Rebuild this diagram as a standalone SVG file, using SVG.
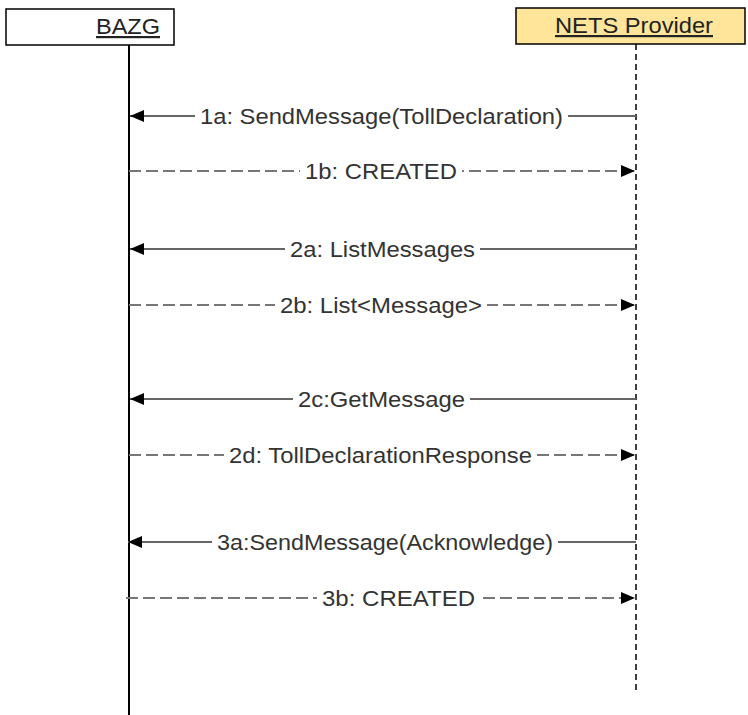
<svg xmlns="http://www.w3.org/2000/svg" width="748" height="715" viewBox="0 0 748 715">
<style>
.box{stroke:#000;stroke-width:1.5}
.title{font-family:"Liberation Sans",Arial,sans-serif;font-size:22px;fill:#222;text-anchor:middle;text-decoration:underline}
.lbl{font-family:"Liberation Sans",Arial,sans-serif;font-size:22px;fill:#333;text-anchor:middle;dominant-baseline:central}
.msg{stroke:#666;stroke-width:2.2;fill:none}
.ret{stroke:#777;stroke-width:2.2;fill:none;stroke-dasharray:12 5}
.bg{fill:#fff}
</style>
<defs>
<marker id="ahb" viewBox="0 0 14 12" refX="14" refY="6" markerWidth="14" markerHeight="12" markerUnits="userSpaceOnUse" orient="auto"><path d="M0,0 L14,6 L0,12 z" fill="#000"/></marker>
</defs>
<g id="bazg">
<rect class="box" x="6" y="9" width="168" height="36" fill="#fff"/>
<text class="title" x="128" y="34" textLength="64" lengthAdjust="spacingAndGlyphs">BAZG</text>
<line x1="129" y1="45" x2="129" y2="715" stroke="#000" stroke-width="2"/>
</g>
<g id="nets">
<rect class="box" x="516" y="8" width="229" height="36" fill="#ffe599"/>
<text class="title" x="634" y="33" textLength="158" lengthAdjust="spacingAndGlyphs">NETS Provider</text>
<line x1="636" y1="44" x2="636" y2="693" stroke="#000" stroke-width="1.5" stroke-dasharray="6 4"/>
</g>
<g id="connectors">
<line class="msg" x1="636" y1="116" x2="130" y2="116" marker-end="url(#ahb)"/>
<rect class="bg" x="195" y="104" width="373" height="24"/>
<text class="lbl" x="381.5" y="116" textLength="363" lengthAdjust="spacingAndGlyphs">1a: SendMessage(TollDeclaration)</text>

<line class="ret" x1="129" y1="171" x2="635" y2="171" marker-end="url(#ahb)"/>
<rect class="bg" x="300" y="159" width="162" height="24"/>
<text class="lbl" x="381" y="171" textLength="152" lengthAdjust="spacingAndGlyphs">1b: CREATED</text>

<line class="msg" x1="636" y1="249" x2="130" y2="249" marker-end="url(#ahb)"/>
<rect class="bg" x="285" y="237" width="195" height="24"/>
<text class="lbl" x="382.5" y="249" textLength="185" lengthAdjust="spacingAndGlyphs">2a: ListMessages</text>

<line class="ret" x1="129" y1="305" x2="635" y2="305" marker-end="url(#ahb)"/>
<rect class="bg" x="275" y="293" width="212" height="24"/>
<text class="lbl" x="381" y="305" textLength="202" lengthAdjust="spacingAndGlyphs">2b: List&lt;Message&gt;</text>

<line class="msg" x1="636" y1="399" x2="130" y2="399" marker-end="url(#ahb)"/>
<rect class="bg" x="293" y="387" width="177" height="24"/>
<text class="lbl" x="381.5" y="399" textLength="167" lengthAdjust="spacingAndGlyphs">2c:GetMessage</text>

<line class="ret" x1="129" y1="455" x2="635" y2="455" marker-end="url(#ahb)"/>
<rect class="bg" x="224" y="443" width="313" height="24"/>
<text class="lbl" x="380.5" y="455" textLength="303" lengthAdjust="spacingAndGlyphs">2d: TollDeclarationResponse</text>

<line class="msg" x1="636" y1="542" x2="128" y2="542" marker-end="url(#ahb)"/>
<rect class="bg" x="212" y="530" width="346" height="24"/>
<text class="lbl" x="385" y="542" textLength="336" lengthAdjust="spacingAndGlyphs">3a:SendMessage(Acknowledge)</text>

<line class="ret" x1="126" y1="598" x2="635" y2="598" marker-end="url(#ahb)"/>
<rect class="bg" x="317" y="586" width="163" height="24"/>
<text class="lbl" x="398.5" y="598" textLength="153" lengthAdjust="spacingAndGlyphs">3b: CREATED</text>
</g>
</svg>
